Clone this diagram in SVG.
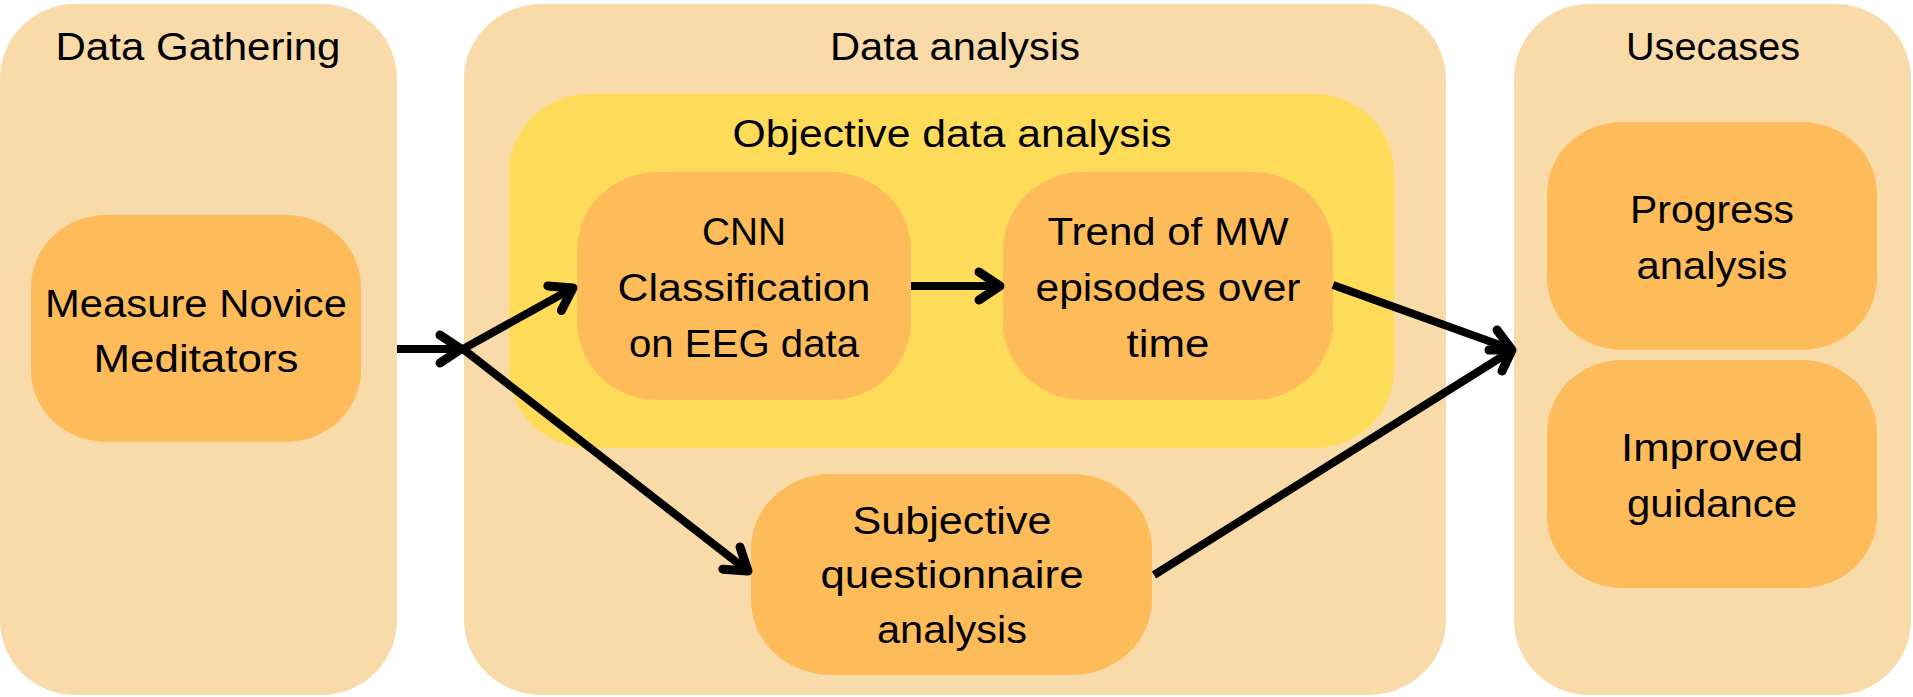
<svg xmlns="http://www.w3.org/2000/svg" width="1913" height="697" viewBox="0 0 1913 697">
<style>
.panel{fill:#F9DAA9}
.obj{fill:#FEDC59}
.node{fill:#FDBC59}
text{font-family:"Liberation Sans","Noto Sans",sans-serif;font-size:38px;fill:#000;text-anchor:middle}
.conn{stroke:#000;stroke-width:8;fill:none;stroke-linecap:butt;stroke-linejoin:round}
.head{stroke:#000;stroke-width:9;fill:none;stroke-linecap:round;stroke-linejoin:round}
</style>
<defs>
<marker id="chev" markerUnits="userSpaceOnUse" viewBox="-28 -22 34 44" markerWidth="34" markerHeight="44" refX="0" refY="0" orient="auto" overflow="visible">
<path class="head" d="M-21,-14 L0,0 L-21,14"/>
</marker>
</defs>
<rect width="1913" height="697" fill="#fff"/>
<g id="data-gathering">
<rect class="panel" x="0" y="4" width="397" height="691" rx="75" ry="75"/>
<text x="198" y="60" textLength="285" lengthAdjust="spacingAndGlyphs">Data Gathering</text>
</g>
<g id="data-analysis">
<rect class="panel" x="464" y="4" width="982" height="691" rx="78" ry="75"/>
<text x="955" y="60" textLength="250" lengthAdjust="spacingAndGlyphs">Data analysis</text>
</g>
<g id="objective-data-analysis">
<rect class="obj" x="509" y="94" width="885" height="354" rx="80" ry="78"/>
<text x="952" y="147" textLength="439" lengthAdjust="spacingAndGlyphs">Objective data analysis</text>
</g>
<g id="usecases">
<rect class="panel" x="1514" y="4" width="397" height="691" rx="75" ry="75"/>
<text x="1713" y="60" textLength="174" lengthAdjust="spacingAndGlyphs">Usecases</text>
</g>
<g id="measure">
<rect class="node" x="31" y="215" width="330" height="227" rx="75" ry="72"/>
<text x="196" y="317" textLength="302" lengthAdjust="spacingAndGlyphs">Measure Novice</text>
<text x="196" y="372" textLength="205" lengthAdjust="spacingAndGlyphs">Meditators</text>
</g>
<g id="cnn">
<rect class="node" x="577" y="172" width="334" height="228" rx="80" ry="78"/>
<text x="744" y="245" textLength="84" lengthAdjust="spacingAndGlyphs">CNN</text>
<text x="744" y="301" textLength="253" lengthAdjust="spacingAndGlyphs">Classification</text>
<text x="744" y="357" textLength="230" lengthAdjust="spacingAndGlyphs">on EEG data</text>
</g>
<g id="trend">
<rect class="node" x="1003" y="172" width="330" height="228" rx="80" ry="78"/>
<text x="1168" y="245" textLength="241" lengthAdjust="spacingAndGlyphs">Trend of MW</text>
<text x="1168" y="301" textLength="265" lengthAdjust="spacingAndGlyphs">episodes over</text>
<text x="1168" y="357" textLength="83" lengthAdjust="spacingAndGlyphs">time</text>
</g>
<g id="subjective">
<rect class="node" x="751" y="474" width="401" height="201" rx="80" ry="75"/>
<text x="952" y="534" textLength="199" lengthAdjust="spacingAndGlyphs">Subjective</text>
<text x="952" y="588" textLength="263" lengthAdjust="spacingAndGlyphs">questionnaire</text>
<text x="952" y="643" textLength="150" lengthAdjust="spacingAndGlyphs">analysis</text>
</g>
<g id="progress">
<rect class="node" x="1547" y="122" width="330" height="228" rx="75" ry="72"/>
<text x="1712" y="223" textLength="164" lengthAdjust="spacingAndGlyphs">Progress</text>
<text x="1712" y="279" textLength="151" lengthAdjust="spacingAndGlyphs">analysis</text>
</g>
<g id="improved">
<rect class="node" x="1547" y="360" width="330" height="228" rx="75" ry="72"/>
<text x="1712" y="461" textLength="182" lengthAdjust="spacingAndGlyphs">Improved</text>
<text x="1712" y="517" textLength="170" lengthAdjust="spacingAndGlyphs">guidance</text>
</g>
<g id="connectors">
<path class="conn" d="M397,349 L461,349" marker-end="url(#chev)"/>
<path class="conn" d="M463,349 L573,288" marker-end="url(#chev)"/>
<path class="conn" d="M463,349 L748,571" marker-end="url(#chev)"/>
<path class="conn" d="M911,286 L1000,286" marker-end="url(#chev)"/>
<path class="conn" d="M1333,285 L1511,349"/>
<path class="conn" d="M1154,575 L1511,351"/>
<path class="head" d="M1497,330 L1512,350 L1502,371 M1489,350 L1512,350"/>
</g>
</svg>
